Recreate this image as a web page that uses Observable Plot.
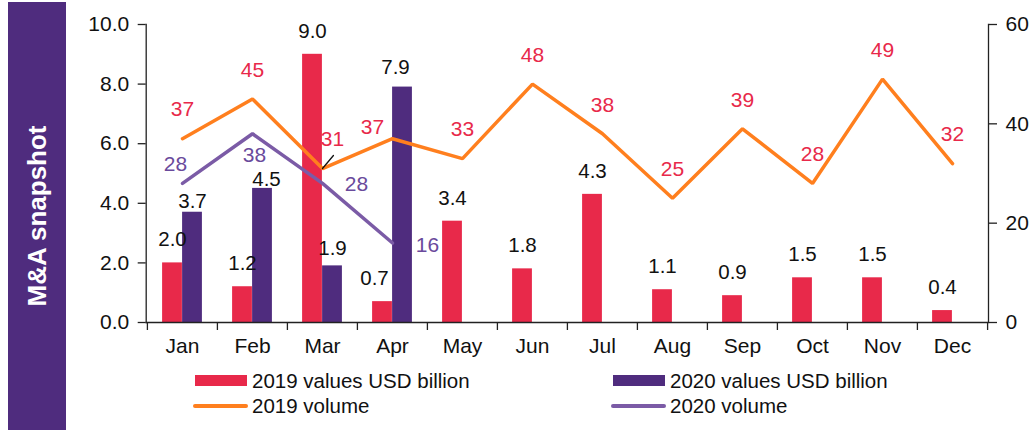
<!DOCTYPE html>
<html>
<head>
<meta charset="utf-8">
<script src="https://cdn.jsdelivr.net/npm/d3@7"></script>
<script src="https://cdn.jsdelivr.net/npm/@observablehq/plot@0.6"></script>
<style>
  html, body { margin: 0; padding: 0; background: #fff; }
  body { width: 1033px; height: 430px; position: relative; overflow: hidden; font-family: "Liberation Sans", Arial, sans-serif; }
  #chart { position: absolute; left: 0; top: 0; }
  #side { position: absolute; left: 8px; top: 2px; width: 58px; height: 428px; background: #4F2C7E; }
  #side span { position: absolute; left: 50%; top: 50%; transform: translate(-50%, -50%) rotate(-90deg); white-space: nowrap;
    color: #fff; font-weight: bold; font-size: 26px; font-family: "Liberation Sans", Arial, sans-serif; }
  .lg { position: absolute; font-family: "Liberation Sans", Arial, sans-serif; font-size: 20.5px; color: #111; white-space: nowrap; line-height: 20px; height: 20px; }
  .sw { position: absolute; }
</style>
</head>
<body>
<div id="chart"></div>
<div id="side"><span>M&amp;A snapshot</span></div>
<div id="legend"></div>
<script>
const months = ["Jan","Feb","Mar","Apr","May","Jun","Jul","Aug","Sep","Oct","Nov","Dec"];
const values2019 = [2.0, 1.2, 9.0, 0.7, 3.4, 1.8, 4.3, 1.1, 0.9, 1.5, 1.5, 0.4];
const values2020 = [3.7, 4.5, 1.9, 7.9];
const volume2019 = [37, 45, 31, 37, 33, 48, 38, 25, 39, 28, 49, 32];
const volume2020 = [28, 38, 28, 16];
const leftTicks = [0, 2, 4, 6, 8, 10];
const rightTicks = [0, 20, 40, 60];
const seriesNames = ["2019 values USD billion", "2020 values USD billion", "2019 volume", "2020 volume"];

const RED = "#E8294A", PURPLE = "#4F2C7E", ORANGE = "#FF7F1E", LAV = "#7B5BA6", LAVTXT = "#6A4A9C";
const W = 1033, H = 360, ML = 145.7, MR = 45, MT = 24, MB = 38;
const bw = (W - ML - MR) / months.length;
const barW = 20, pad = (bw - 2 * barW) / 2;
const ratio = leftTicks[leftTicks.length - 1] / rightTicks[rightTicks.length - 1];

const rows = months.map((m, i) => ({
  month: m,
  v19: values2019[i],
  v20: i < values2020.length ? values2020[i] : null,
  n19: volume2019[i],
  n20: i < volume2020.length ? volume2020[i] : null
}));
const rows20 = rows.filter(d => d.v20 != null);

const FF = "Liberation Sans, Arial, sans-serif";
const font = {fontSize: 20.5, fontFamily: FF};
const tfont = {fontSize: 21, fontFamily: FF};
const vfont = {fontSize: 21, fontFamily: FF};

// label helper with per-month nudges (style only)
function labels(data, y, text, fill, base, nudges = {}, f = font) {
  const groups = {};
  data.forEach(d => {
    const k = JSON.stringify(nudges[d.month] || base);
    (groups[k] = groups[k] || []).push(d);
  });
  return Object.entries(groups).map(([k, ds]) => {
    const [dx, dy] = JSON.parse(k);
    return Plot.text(ds, {x: "month", y, text, fill, dx, dy, lineAnchor: "middle", ...f});
  });
}

const plot = Plot.plot({
  width: W, height: H,
  marginLeft: ML, marginRight: MR, marginTop: MT, marginBottom: MB,
  style: {fontFamily: FF, fontSize: "20px", color: "#111", background: "transparent"},
  x: {type: "band", domain: months, padding: 0, label: null, axis: null},
  y: {domain: [0, 10], label: null, axis: null},
  marks: [
    Plot.barY(rows, {x: "month", y: "v19", fill: RED, insetLeft: pad, insetRight: bw - pad - barW}),
    Plot.barY(rows20, {x: "month", y: "v20", fill: PURPLE, insetLeft: pad + barW, insetRight: pad}),
    Plot.line(rows, {x: "month", y: d => d.n19 * ratio, stroke: ORANGE, strokeWidth: 3.5, strokeLinejoin: "miter"}),
    Plot.line(rows20, {x: "month", y: d => d.n20 * ratio, stroke: LAV, strokeWidth: 3.5, strokeLinejoin: "miter"}),
    // axes
    Plot.ruleY([0], {stroke: "#222", strokeWidth: 1.3}),
    Plot.frame({anchor: "left", stroke: "#222", strokeWidth: 1.3}),
    Plot.frame({anchor: "right", stroke: "#222", strokeWidth: 1.3}),
    Plot.axisY({anchor: "left", ticks: leftTicks, tickFormat: d => d.toFixed(1), tickSize: 8, tickPadding: 9, label: null, stroke: "#222", strokeWidth: 1.3, fill: "#111", ...tfont}),
    Plot.axisY({anchor: "right", ticks: rightTicks.map(v => v * ratio), tickFormat: d => String(Math.round(d / ratio)), tickSize: 8, tickPadding: 9, label: null, stroke: "#222", strokeWidth: 1.3, fill: "#111", ...tfont}),
    Plot.axisX({anchor: "bottom", tickSize: 0, tickPadding: 16, label: null, fill: "#111", ...tfont}),
    Plot.axisX({anchor: "bottom", tickSize: 8, tickFormat: () => "", dx: -bw / 2, label: null, stroke: "#222", strokeWidth: 1.3}),
    Plot.axisX({anchor: "bottom", ticks: [months[months.length - 1]], tickSize: 8, tickFormat: () => "", dx: bw / 2, label: null, stroke: "#222", strokeWidth: 1.3}),
    // bar value labels
    ...labels(rows, "v19", d => d.v19.toFixed(1), "#111", [-barW / 2, -23], {Apr: [-barW / 2 - 8, -23]}),
    ...labels(rows20, "v20", d => d.v20.toFixed(1), "#111", [barW / 2, -11], {Feb: [barW / 2 + 4, -9], Mar: [barW / 2, -17], Apr: [barW / 2 - 7, -20]}),
    // volume labels
    ...labels(rows, d => d.n19 * ratio, d => String(d.n19), RED, [0, -29], {Mar: [10, -29], Apr: [-20, -11]}, vfont),
    ...labels(rows20, d => d.n20 * ratio, d => String(d.n20), LAVTXT, [-7, -19], {Feb: [2, 21], Mar: [34, 1], Apr: [35, 2]}, vfont),
    // leader line for March 2019 volume label
    Plot.vector(rows.filter(d => d.month === "Mar"), {x: "month", y: d => d.n19 * ratio, length: 17, rotate: 40, anchor: "start", stroke: "#111", strokeWidth: 1.3,
      shape: {draw(context, l) { context.moveTo(0, 0); context.lineTo(0, -l); }}})
  ]
});
document.getElementById("chart").appendChild(plot);

// legend
const lg = document.getElementById("legend");
const items = [
  {name: seriesNames[0], kind: "bar", color: RED, x: 195, y: 380.5},
  {name: seriesNames[1], kind: "bar", color: PURPLE, x: 613, y: 380.5},
  {name: seriesNames[2], kind: "line", color: ORANGE, x: 195, y: 406},
  {name: seriesNames[3], kind: "line", color: LAV, x: 613, y: 406}
];
items.forEach(it => {
  const sw = document.createElement("div");
  sw.className = "sw";
  if (it.kind === "bar") {
    Object.assign(sw.style, {left: it.x + "px", top: (it.y - 5.5) + "px", width: "52px", height: "11px", background: it.color});
  } else {
    Object.assign(sw.style, {left: (it.x - 2) + "px", top: (it.y - 2) + "px", width: "55px", height: "4px", background: it.color, borderRadius: "2px"});
  }
  lg.appendChild(sw);
  const t = document.createElement("div");
  t.className = "lg";
  t.textContent = it.name;
  Object.assign(t.style, {left: (it.x + 57) + "px", top: (it.y - 10) + "px"});
  lg.appendChild(t);
});
</script>
</body>
</html>
